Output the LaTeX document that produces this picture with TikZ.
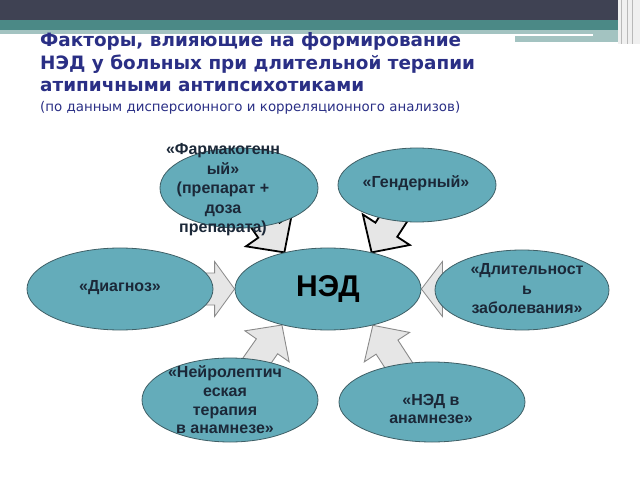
\documentclass[tikz,border=0pt]{standalone}
\usepackage{fontspec}
\setmainfont{Liberation Sans}
\newfontfamily\titlefont{DejaVu Sans}
\usetikzlibrary{shapes.geometric,backgrounds}
\definecolor{ellfill}{HTML}{64ACBA}
\definecolor{elldraw}{HTML}{3F5F66}
\definecolor{arrfill}{HTML}{E6E6E6}
\definecolor{arrdraw}{HTML}{8A8A8A}
\definecolor{titleblue}{HTML}{2A2F85}
\definecolor{darkbar}{HTML}{3F4253}
\definecolor{tealbar}{HTML}{4B8986}
\definecolor{paleteal}{HTML}{A3C3C1}
\definecolor{txtdark}{HTML}{1B2838}
\newcommand{\blockarr}[7]{%
  \begin{scope}[on background layer]
  \begin{scope}[shift={(#2)}, rotate=#3]
    \draw[#1] (0,0) -- (-#4,#5) -- (-#4,#6) -- (-#7,#6) -- (-#7,-#6) -- (-#4,-#6) -- (-#4,-#5) -- cycle;
  \end{scope}
  \end{scope}}
\begin{document}
\begin{tikzpicture}[x=1bp,y=-1bp,
  ell/.style={ellipse, draw=elldraw, fill=ellfill, line width=0.8bp, inner sep=0pt},
  etext/.style={font=\fontsize{16bp}{19.5bp}\selectfont\bfseries, text=txtdark, align=center, inner sep=0pt},
  ttl/.style={anchor=base west, inner sep=0pt, text=titleblue, font=\titlefont\bfseries\fontsize{18.4bp}{21bp}\selectfont},
  ttlsmall/.style={anchor=base west, inner sep=0pt, text=titleblue, font=\titlefont\fontsize{13.4bp}{15bp}\selectfont},
  sidearrow/.style={fill=arrfill, draw=arrdraw, line width=0.8bp, line join=miter},
  toparrow/.style={fill=arrfill, draw=black, line width=1.8bp, line join=miter},
  botarrow/.style={fill=arrfill, draw=arrdraw, line width=0.9bp, line join=miter}]
\useasboundingbox (0,0) rectangle (640,480);
% header
\fill[darkbar] (0,0) rectangle (618,20);
\fill[tealbar] (0,20) rectangle (618,30);
\fill[paleteal] (0,30) rectangle (618,34);
\fill[white] (0,34) rectangle (593,36);
\fill[paleteal] (593,34) rectangle (618,36);
\fill[paleteal] (515,36) rectangle (618,42);
\fill[gray!12] (618,0) rectangle (640,44);
\draw[gray!55, line width=1bp] (621,0) -- (621,44);
\draw[gray!55, line width=1bp] (627,0) -- (627,44);
\draw[gray!55, line width=1bp] (632,0) -- (632,44);
% title
\node[ttl] (t1) at (40,47) {Факторы, влияющие на формирование};
\node[ttl] (t2) at (40,70) {НЭД у больных при длительной терапии};
\node[ttl] (t3) at (40,92) {атипичными антипсихотиками};
\node[ttlsmall] (t4) at (40,112) {(по данным дисперсионного и корреляционного анализов)};
% ellipses
\node[ell, minimum width=186bp, minimum height=82bp] (ned) at (328,289) {};
\node[ell, minimum width=158bp, minimum height=80bp] (farm) at (239,188) {};
\node[ell, minimum width=158bp, minimum height=74bp] (gend) at (417,185) {};
\node[ell, minimum width=186bp, minimum height=82bp] (diag) at (120,289) {};
\node[ell, minimum width=174bp, minimum height=80bp] (dlit) at (522,290) {};
\node[ell, minimum width=176bp, minimum height=84bp] (neyro) at (230,400) {};
\node[ell, minimum width=186bp, minimum height=80bp] (anam) at (432,402) {};
% arrows (behind ellipses)
\blockarr{toparrow}{ned.140}{-55}{27}{28}{13}{75}
\blockarr{toparrow}{ned.40}{-123}{27}{28}{13}{75}
\blockarr{sidearrow}{ned.180}{0}{20}{27.5}{16}{60}
\blockarr{sidearrow}{ned.0}{180}{21}{27.5}{16}{60}
\blockarr{botarrow}{ned.218}{55}{26}{27}{13}{75}
\blockarr{botarrow}{ned.-39}{123}{26}{27}{13}{75}
% texts
\node[font=\fontsize{30bp}{36bp}\selectfont\bfseries, text=black, inner sep=0pt] (nedtxt) at (328,289) {НЭД};
\node[etext] (farmtxt) at (223,190) {«Фармакогенн\\ый»\\(препарат +\\доза\\препарата)};
\node[etext] (gendtxt) at (416,183) {«Гендерный»};
\node[etext] (diagtxt) at (120,288) {«Диагноз»};
\node[etext] (dlittxt) at (527,289) {«Длительност\\ь\\заболевания»};
\node[etext, font=\fontsize{16bp}{18.7bp}\selectfont\bfseries] (neyrotxt) at (225,400) {«Нейролептич\\еская\\терапия\\в анамнезе»};
\node[etext, font=\fontsize{16bp}{18.7bp}\selectfont\bfseries] (anamtxt) at (431,409) {«НЭД в\\анамнезе»};
\end{tikzpicture}
\end{document}
